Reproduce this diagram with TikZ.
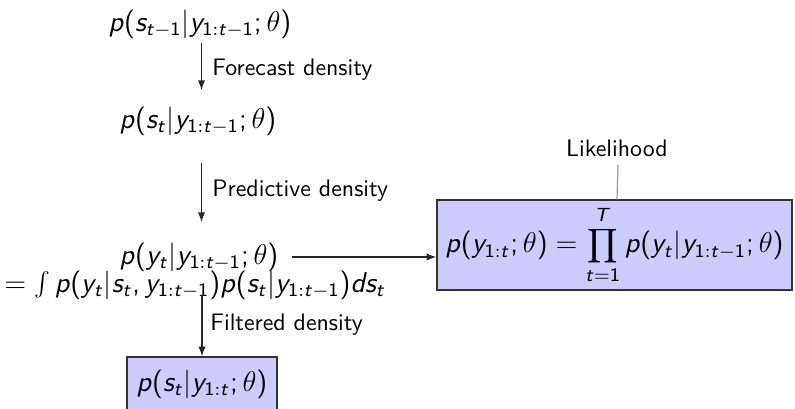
\documentclass[tikz,border=0pt]{standalone}
\usetikzlibrary{arrows.meta,calc}
\DeclareSymbolFont{sfit}{OT1}{cmss}{m}{sl}
\DeclareSymbolFont{sfup}{OT1}{cmss}{m}{n}
\makeatletter
\def\sfl#1{\DeclareMathSymbol{#1}{\mathalpha}{sfit}{`#1}}
\def\sfd#1{\DeclareMathSymbol{#1}{\mathalpha}{sfup}{`#1}}
\@tfor\x:=abcdefghijklmnopqrstuvwxyzABCDEFGHIJKLMNOPQRSTUVWXYZ\do{\expandafter\sfl\x}
\@tfor\x:=0123456789\do{\expandafter\sfd\x}
\makeatother
\DeclareMathSymbol{(}{\mathopen}{sfup}{`(}
\DeclareMathSymbol{)}{\mathclose}{sfup}{`)}
\DeclareMathSymbol{;}{\mathpunct}{sfup}{`;}
\DeclareMathSymbol{,}{\mathpunct}{sfup}{`,}
\begin{document}
\begin{tikzpicture}[x=0.419pt,y=-0.419pt,
  mth/.style={inner sep=0pt,font=\fontsize{12}{14}\selectfont\sffamily},
  txt/.style={inner sep=0pt,font=\sffamily},
  lbl/.style={inner sep=0pt,anchor=west,font=\sffamily},
  arr/.style={-{Latex[length=4pt,width=3pt]},black!85,line width=0.5pt},
  bluebox/.style={draw=black!80,fill=blue!20,line width=0.6pt,inner sep=0pt,font=\fontsize{12}{14}\selectfont\sffamily}]
\useasboundingbox (0,0) rectangle (795,409);
\node[mth] (n1) at (200,24) {$p(s_{t-1}|y_{1:t-1};\theta)$};
\node[mth] (n2) at (198,121) {$p(s_t|y_{1:t-1};\theta)$};
\node[mth] (n3) at (199,257) {$p(y_t|y_{1:t-1};\theta)$};
\node[mth] (n3b) at (195,285) {$= \int p(y_t|s_t, y_{1:t-1}) p(s_t|y_{1:t-1}) ds_t$};
\node[bluebox,minimum width=150*0.419pt,minimum height=54*0.419pt] (b4) at (202,384) {$p(s_t|y_{1:t};\theta)$};
\node[bluebox,minimum width=355*0.419pt,minimum height=90*0.419pt] (b5) at (614.5,245) {$\displaystyle p(y_{1:t};\theta)=\prod_{t=1}^{T} p(y_t|y_{1:t-1};\theta)$};
\node[txt] (lk) at (617,148) {Likelihood};
\node[lbl] (l1) at (212,70) {Forecast density};
\node[lbl] (l2) at (212,191) {Predictive density};
\node[lbl] (l3) at (210,325) {Filtered density};
\draw[arr] ($(n1)+(1.5,19)$) -- ($(n2)+(3.5,-31)$);
\draw[arr] ($(n2)+(3.5,42)$) -- ($(n3)+(2.5,-35)$);
\draw[arr] ($(n3)+(93,0)$) -- (n3 -| b5.west);
\draw[arr] ($(n3b)+(7,10)$) -- (b4.north);
\draw[black!40,line width=0.5pt] ($(lk)+(1,17)$) -- (b5.north -| lk);
\end{tikzpicture}
\end{document}
